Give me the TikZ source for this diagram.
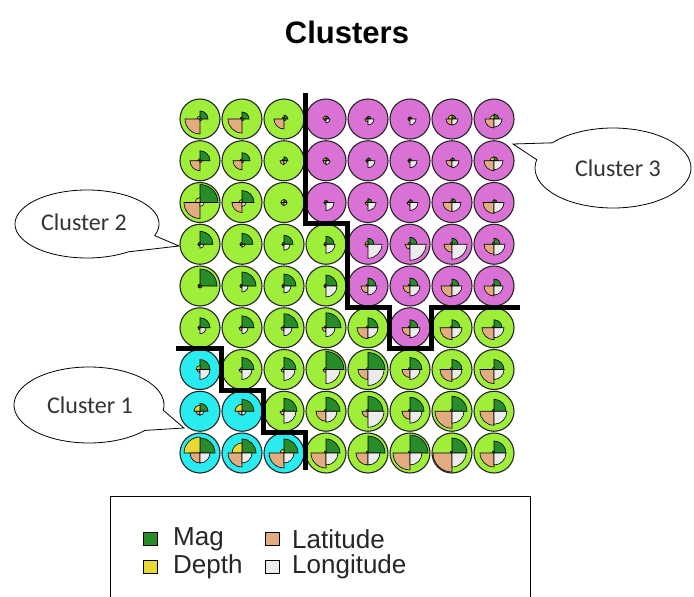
\documentclass[tikz,border=0pt]{standalone}
\usepackage{fontspec}
\setmainfont{Liberation Sans}
\newfontfamily\calfont{Carlito}
\usetikzlibrary{calc}
\definecolor{cgreen}{RGB}{158,238,58}
\definecolor{cpurple}{RGB}{218,114,214}
\definecolor{ccyan}{RGB}{40,236,240}
\definecolor{magc}{RGB}{40,140,40}
\definecolor{depc}{RGB}{232,218,50}
\definecolor{latc}{RGB}{226,172,128}
\definecolor{lonc}{RGB}{236,236,236}
\newcommand\somseg[5]{%
  \filldraw[seg,fill=#5] (#1,#2) -- ++(#3:#4*20) arc[start angle=#3,end angle=#3-90,radius=#4*20] -- cycle;}
\newcommand\callshape[8]{%
  \draw[callout] (#7,#8) -- ($(#1,#2)+(#5:#3 and #4)$) arc[start angle=#5,end angle=#6-360,x radius=#3,y radius=#4] -- cycle;}
\begin{document}
\begin{tikzpicture}[x=1pt,y=-1pt,
  circ/.style={draw=black!85,line width=1.1pt},
  seg/.style={draw=black,line width=0.6pt},
  bound/.style={draw=black,line width=5pt,line join=miter},
  callout/.style={draw=black,fill=white,line width=0.8pt},
  calltext/.style={font=\calfont\fontsize{24}{28}\selectfont,text=black!80},
  legsq/.style={draw=black,line width=0.8pt,minimum width=14pt,minimum height=13pt,inner sep=0pt},
  legtext/.style={font=\fontsize{26}{30}\selectfont,text=black!85,anchor=west,inner sep=0pt}]
\useasboundingbox[fill=white] (0,0) rectangle (694,597);

\node[font=\bfseries\fontsize{31}{36}\selectfont] (title) at (347,32) {Clusters};

\foreach \i/\j/\c/\m/\d/\la/\lo in {
 1/1/cgreen/.4/.15/.75/.1, 2/1/cgreen/.35/.1/.7/.1, 3/1/cgreen/.2/.1/.5/.1, 4/1/cpurple/.15/.15/.1/.2,
 5/1/cpurple/.15/.1/.15/.3, 6/1/cpurple/.1/.1/.1/.3, 7/1/cpurple/.2/.2/.3/.3, 8/1/cpurple/.25/.2/.45/.4,
 1/2/cgreen/.5/.1/.5/.1, 2/2/cgreen/.4/.1/.45/.1, 3/2/cgreen/.2/.1/.2/.15, 4/2/cpurple/.15/.15/.15/.2,
 5/2/cpurple/.15/.1/.1/.35, 6/2/cpurple/.1/.1/.1/.35, 7/2/cpurple/.15/.1/.3/.35, 8/2/cpurple/.2/.2/.5/.45,
 1/3/cgreen/.9/.25/.8/.2, 2/3/cgreen/.6/.15/.5/.2, 3/3/cgreen/.15/.15/.15/.15, 4/3/cpurple/.1/.1/.1/.4,
 5/3/cpurple/.2/.1/.15/.4, 6/3/cpurple/.15/.1/.15/.4, 7/3/cpurple/.2/.1/.45/.45, 8/3/cpurple/.15/.1/.55/.5,
 1/4/cgreen/.65/.1/.1/.2, 2/4/cgreen/.55/.1/.1/.15, 3/4/cgreen/.45/.1/.1/.3, 4/4/cgreen/.4/.1/.1/.45,
 5/4/cpurple/.3/.15/.15/.7, 6/4/cpurple/.35/.1/.25/.8, 7/4/cpurple/.3/.1/.4/.75, 8/4/cpurple/.3/.1/.5/.55,
 1/5/cgreen/.85/.1/.1/.1, 2/5/cgreen/.7/.1/.1/.3, 3/5/cgreen/.6/.1/.1/.35, 4/5/cgreen/.55/.1/.1/.55,
 5/5/cpurple/.4/.1/.35/.45, 6/5/cpurple/.4/.1/.35/.5, 7/5/cpurple/.35/.1/.55/.5, 8/5/cpurple/.35/.1/.5/.45,
 1/6/cgreen/.5/.1/.1/.3, 2/6/cgreen/.6/.1/.15/.3, 3/6/cgreen/.7/.1/.15/.4, 4/6/cgreen/.75/.1/.2/.45,
 5/6/cgreen/.5/.1/.55/.5, 6/6/cpurple/.4/.1/.4/.5, 7/6/cgreen/.4/.1/.6/.5, 8/6/cgreen/.4/.1/.6/.5,
 1/7/ccyan/.5/.2/.15/.5, 2/7/cgreen/.6/.1/.15/.5, 3/7/cgreen/.6/.1/.15/.55, 4/7/cgreen/.9/.1/.15/.7,
 5/7/cgreen/.85/.1/.5/.8, 6/7/cgreen/.6/.1/.4/.5, 7/7/cgreen/.5/.1/.6/.5, 8/7/cgreen/.5/.1/.7/.5,
 1/8/ccyan/.4/.3/.2/.2, 2/8/ccyan/.6/.35/.2/.2, 3/8/cgreen/.65/.1/.2/.6, 4/8/cgreen/.7/.1/.5/.55,
 5/8/cgreen/.75/.1/.3/.8, 6/8/cgreen/.7/.1/.4/.6, 7/8/cgreen/.75/.1/.85/.6, 8/8/cgreen/.6/.1/.7/.65,
 1/9/ccyan/.75/.8/.5/.5, 2/9/ccyan/.7/.5/.7/.5, 3/9/ccyan/.7/.2/.75/.5, 4/9/cgreen/.7/.1/.75/.6,
 5/9/cgreen/.85/.1/.6/.6, 6/9/cgreen/.9/.1/.85/.6, 7/9/cgreen/.75/.1/.95/.7, 8/9/cgreen/.6/.1/.7/.6}{
  \pgfmathsetmacro\cx{200+42*(\i-1)}
  \pgfmathsetmacro\cy{119+41.75*(\j-1)}
  \filldraw[circ,fill=\c] (\cx,\cy) circle (20);
  \somseg{\cx}{\cy}{0}{\m}{magc}
  \somseg{\cx}{\cy}{-90}{\d}{depc}
  \somseg{\cx}{\cy}{-180}{\la}{latc}
  \somseg{\cx}{\cy}{-270}{\lo}{lonc}
}

% cluster boundaries
\coordinate (b3a) at (305,93);
\coordinate (b3b) at (305,223);
\coordinate (b3c) at (347,223);
\coordinate (b3d) at (347,307);
\coordinate (b3e) at (389,307);
\coordinate (b3f) at (389,348);
\coordinate (b3g) at (431,348);
\coordinate (b3h) at (431,307);
\coordinate (b3i) at (520,307);
\draw[bound] (b3a) -- (b3b) -- (b3c) -- (b3d) -- (b3e) -- (b3f) -- (b3g) -- (b3h) -- (b3i);
\coordinate (b1a) at (176,348);
\coordinate (b1b) at (221,348);
\coordinate (b1c) at (221,390);
\coordinate (b1d) at (263,390);
\coordinate (b1e) at (263,432);
\coordinate (b1f) at (305,432);
\coordinate (b1g) at (305,470);
\draw[bound] (b1a) -- (b1b) -- (b1c) -- (b1d) -- (b1e) -- (b1f) -- (b1g);

% callouts
\callshape{87}{224}{72}{34}{20}{55}{179}{246}
\node[calltext] (c2) at (84,222) {Cluster 2};
\callshape{89}{405}{75}{38}{8}{42}{184}{428}
\node[calltext] (c1) at (90,405) {Cluster 1};
\callshape{613}{168}{78}{40}{-168}{-141}{513}{144}
\node[calltext] (c3) at (618,168) {Cluster 3};

% legend
\coordinate (lgA) at (110,600);
\coordinate (lgB) at (110,496);
\coordinate (lgC) at (530,496);
\coordinate (lgD) at (530,600);
\draw[line width=0.9pt] (lgA) -- (lgB) -- (lgC) -- (lgD);
\node[legsq,fill=magc] (sqm) at (150,539) {};
\node[legsq,fill=depc] (sqd) at (150,567) {};
\node[legsq,fill=latc] (sqla) at (272,539) {};
\node[legsq,fill=lonc] (sqlo) at (272,567) {};
\node[legtext] (tm) at (173,539) {Mag};
\node[legtext] (td) at (173,567) {Depth};
\node[legtext] (tla) at (292,539) {Latitude};
\node[legtext] (tlo) at (292,567) {Longitude};
\end{tikzpicture}
\end{document}
